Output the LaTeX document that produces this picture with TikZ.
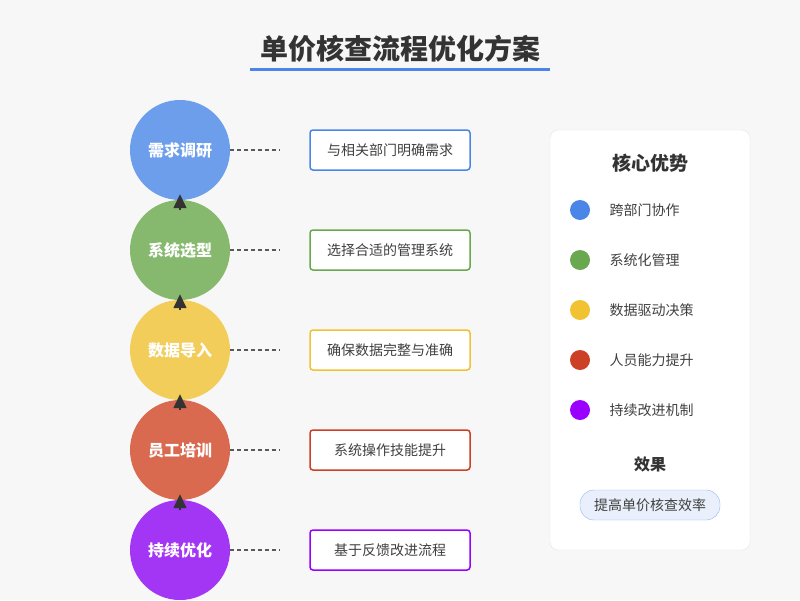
\documentclass[tikz,border=0pt]{standalone}
\usepackage{fontspec}
\newfontfamily\cjk{Noto Sans CJK SC}
\usetikzlibrary{arrows.meta,positioning}
\definecolor{cblue}{HTML}{6D9EEB}
\definecolor{cgreen}{HTML}{86B96E}
\definecolor{cyellow}{HTML}{F3CD5A}
\definecolor{cred}{HTML}{D9694F}
\definecolor{cpurple}{HTML}{A335F5}
\definecolor{dblue}{HTML}{4A86E8}
\definecolor{dgreen}{HTML}{6AA84F}
\definecolor{dyellow}{HTML}{F1C232}
\definecolor{dred}{HTML}{CC4125}
\definecolor{dpurple}{HTML}{9900FF}
\begin{document}
\begin{tikzpicture}[
      x=1pt,y=-1pt,
      font=\cjk,
      stepcircle/.style={
         circle,
         inner sep=0pt,
         minimum size=100pt,
         text=white,
         font=\cjk\bfseries\fontsize{16}{19}\selectfont},
      stepbox/.style={
         draw,
         rounded corners=3pt,
         line width=1.5pt,
         fill=white,
         minimum width=160pt,
         minimum height=40pt,
         font=\cjk\fontsize{14}{17}\selectfont,
         text=black!75},
      dot/.style={circle,inner sep=0pt,minimum size=20pt},
      legtext/.style={anchor=west,font=\cjk\fontsize{14}{17}\selectfont,text=black!75},
      myarrow/.style={-{Triangle[length=14pt,width=13pt]},line width=1.5pt,draw=black!80}
      ]
      \fill[gray!6] (0,0) rectangle (800,600);
      \node[font=\cjk\bfseries\fontsize{28}{34}\selectfont,text=black!80] (title) at (400,49) {单价核查流程优化方案};
      \draw[dblue,line width=3pt] (250,69) -- (550,69);

      \foreach \n/\y/\c/\d/\txt/\desc in {%
        s1/150/cblue/dblue/需求调研/与相关部门明确需求,
        s2/250/cgreen/dgreen/系统选型/选择合适的管理系统,
        s3/350/cyellow/dyellow/数据导入/确保数据完整与准确,
        s4/450/cred/dred/员工培训/系统操作技能提升,
        s5/550/cpurple/dpurple/持续优化/基于反馈改进流程}{
        \node[stepcircle,fill=\c] (\n) at (180,\y) {\txt};
        \node[stepbox,draw=\d] (\n b) at (390,\y) {\desc};
        \coordinate (\n e) at (280,\y);
        \draw[dash pattern=on 4pt off 3pt,line width=1.5pt,black!65] (\n.east) -- (\n e);
      }
      \foreach \i/\j in {s1/s2,s2/s3,s3/s4,s4/s5}
        \draw[myarrow] ([yshift=-10pt]\i.south) -- ([yshift=6pt]\i.south);

      % right panel
      \node[draw=black!10,fill=white,rounded corners=8pt,minimum width=200pt,minimum height=420pt,inner sep=0pt] (panel) at (650,340) {};
      \node[font=\cjk\bfseries\fontsize{19}{23}\selectfont,text=black!80] (ptitle) at (650,163) {核心优势};
      \foreach \n/\y/\c/\txt in {%
        l1/210/dblue/跨部门协作,
        l2/260/dgreen/系统化管理,
        l3/310/dyellow/数据驱动决策,
        l4/360/dred/人员能力提升,
        l5/410/dpurple/持续改进机制}{
        \node[dot,fill=\c] (\n) at (580,\y) {};
        \node[legtext] (\n t) at (606,\y) {\txt};
      }
      \node[font=\cjk\bfseries\fontsize{16}{19}\selectfont,text=black!80] (eff) at (650,464) {效果};
      \node[draw=dblue!60,fill=dblue!12,rounded corners=14pt,minimum width=140pt,minimum height=30pt,font=\cjk\fontsize{14}{17}\selectfont,text=black!75] (effbox) at (650,505) {提高单价核查效率};
\end{tikzpicture}
\end{document}
